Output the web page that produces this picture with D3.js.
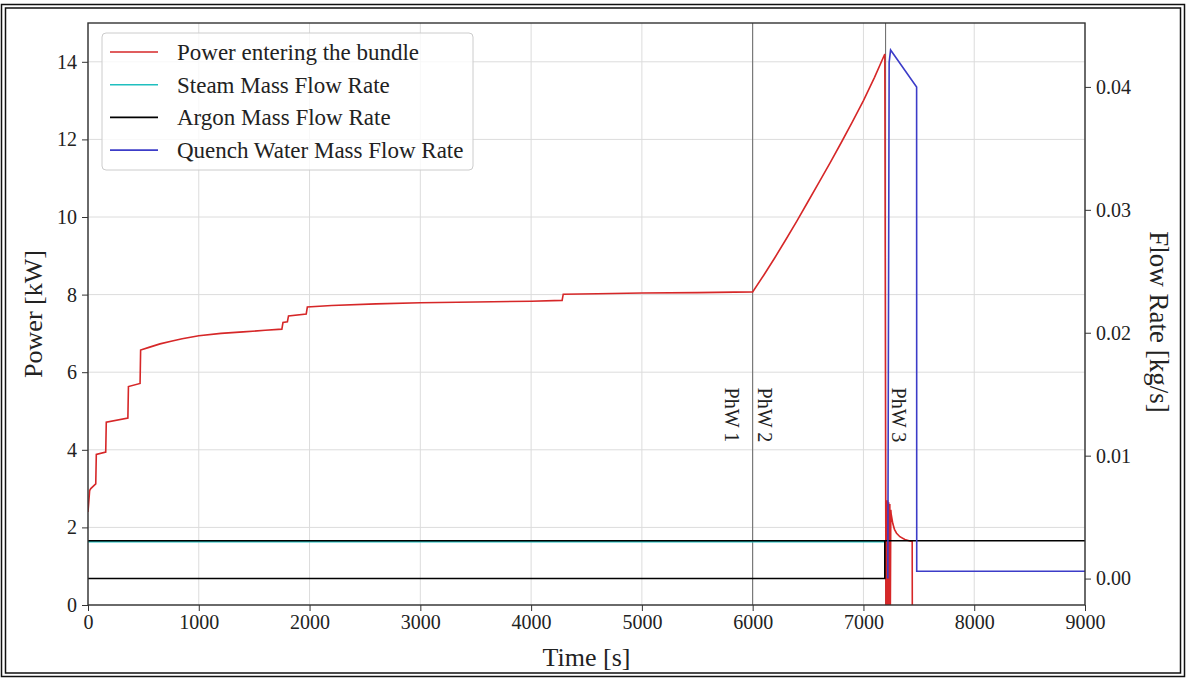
<!DOCTYPE html>
<html>
<head>
<meta charset="utf-8">
<script src="https://cdn.jsdelivr.net/npm/d3@7"></script>
<style>
    body { margin: 0; background: #fff; }
    svg { font-family: 'Liberation Serif', 'Times New Roman', serif; }
</style>
</head>
<body>
<div id="chart"></div>
<script>
// power entering the bundle [kW]
const powerTime = [0, 15, 25, 70, 75, 160, 165, 360, 365, 470, 475, 550, 650, 750, 850, 1000, 1200, 1400, 1600, 1750,
    1760, 1800, 1810, 1970, 1980, 2200, 2600, 3000, 3500, 4000, 4280, 4290, 4600, 5000, 5500, 6000,
    6100, 6200, 6300, 6400, 6500, 6600, 6700, 6800, 6900, 7000, 7100, 7193,
    7203, 7208, 7213, 7218, 7223, 7228, 7233, 7238, 7243, 7247, 7250, 7265, 7280, 7299, 7329, 7374, 7419, 7440, 7441];
const powerKW = [2.4, 2.95, 3.0, 3.12, 3.88, 3.94, 4.71, 4.82, 5.63, 5.71, 6.57, 6.64, 6.73, 6.8, 6.86, 6.94, 7.0, 7.04, 7.08, 7.11,
    7.28, 7.3, 7.45, 7.5, 7.68, 7.72, 7.76, 7.79, 7.81, 7.83, 7.85, 8.01, 8.02, 8.04, 8.05, 8.07,
    8.5, 8.95, 9.42, 9.9, 10.4, 10.9, 11.4, 11.92, 12.45, 13.0, 13.6, 14.2,
    0, 2.7, 0, 2.7, 0, 2.65, 0, 2.6, 0, 2.45, 2.35, 2.1, 1.95, 1.85, 1.76, 1.69, 1.65, 1.64, 0];

// mass flow rates [kg/s]
const steamTime = [0, 7193];
const steamFlow = [0.00300, 0.00300];
const argonTime = [0, 9000];
const argonFlow = [0.00308, 0.00308];
const argonStartTime = [0, 7193, 7193];
const argonStartFlow = [0, 0, 0.00308];
const quenchTime = [7220, 7232, 7245, 7480, 7481, 9000];
const quenchFlow = [0, 0.042, 0.0430, 0.0400, 0.0006, 0.0006];

// phase markers
const phaseTimes = [6000, 7200];
const phaseLabels = [
    { t: 6000, text: 'PhW 1', dx: -21 },
    { t: 6000, text: 'PhW 2', dx: 12 },
    { t: 7200, text: 'PhW 3', dx: 13 }
];

const xTicks = [0, 1000, 2000, 3000, 4000, 5000, 6000, 7000, 8000, 9000];
const powerTicks = [0, 2, 4, 6, 8, 10, 12, 14];
const flowTicks = [0, 0.01, 0.02, 0.03, 0.04];

const legendItems = [
    { label: 'Power entering the bundle', color: '#d62728' },
    { label: 'Steam Mass Flow Rate', color: '#1fbfbf' },
    { label: 'Argon Mass Flow Rate', color: '#000' },
    { label: 'Quench Water Mass Flow Rate', color: '#3c3cc8' }
];

const width = 1186, height = 678;
const margin = { left: 88, right: 101, top: 23, bottom: 73 };
const innerW = width - margin.left - margin.right;
const innerH = height - margin.top - margin.bottom;
const tickFont = 20;

const svg = d3.select('#chart')
    .append('svg')
    .attr('width', width)
    .attr('height', height);

// outer double frame
svg.append('rect').attr('x', 1.5).attr('y', 4.5).attr('width', width - 3).attr('height', height - 6)
    .attr('fill', 'none').attr('stroke', '#111').attr('stroke-width', 1.5);
svg.append('rect').attr('x', 5.5).attr('y', 8).attr('width', width - 11).attr('height', height - 13)
    .attr('fill', 'none').attr('stroke', '#111').attr('stroke-width', 1.5);

const x = d3.scaleLinear().domain([0, 9000]).range([0, innerW]);
const yPower = d3.scaleLinear().domain([0, 15]).range([innerH, 0]);
const yFlow = d3.scaleLinear().domain([-0.00215, 0.0452]).range([innerH, 0]);

const g = svg.append('g').attr('transform', `translate(${margin.left},${margin.top})`);

// grid
g.append('g')
    .selectAll('line')
    .data(xTicks)
    .enter().append('line')
    .attr('x1', d => x(d)).attr('x2', d => x(d))
    .attr('y1', 0).attr('y2', innerH)
    .attr('stroke', '#dcdcdc').attr('stroke-width', 1);
g.append('g')
    .selectAll('line')
    .data(powerTicks)
    .enter().append('line')
    .attr('x1', 0).attr('x2', innerW)
    .attr('y1', d => yPower(d)).attr('y2', d => yPower(d))
    .attr('stroke', '#dcdcdc').attr('stroke-width', 1);

// phase lines
g.append('g')
    .selectAll('line')
    .data(phaseTimes)
    .enter().append('line')
    .attr('x1', d => x(d)).attr('x2', d => x(d))
    .attr('y1', 0).attr('y2', innerH)
    .attr('stroke', '#666').attr('stroke-width', 1);

g.append('g')
    .selectAll('text')
    .data(phaseLabels)
    .enter().append('text')
    .attr('transform', d => `translate(${x(d.t) + d.dx},${yPower(4.9)})rotate(90)`)
    .attr('text-anchor', 'middle')
    .attr('dy', '0.35em')
    .attr('font-size', 20)
    .attr('fill', '#222')
    .text(d => d.text);

const zip = (ts, vs) => ts.map((t, i) => [t, vs[i]]);

const powerLine = d3.line().x(d => x(d[0])).y(d => yPower(d[1]));
const flowLine = d3.line().x(d => x(d[0])).y(d => yFlow(d[1]));

const clip = svg.append('defs').append('clipPath').attr('id', 'plotclip');
clip.append('rect').attr('width', innerW).attr('height', innerH);
const plot = g.append('g').attr('clip-path', 'url(#plotclip)');

plot.append('path')
    .datum(zip(powerTime, powerKW))
    .attr('d', powerLine)
    .attr('fill', 'none').attr('stroke', '#d62728').attr('stroke-width', 1.6);

plot.append('path')
    .datum(zip(steamTime, steamFlow))
    .attr('d', flowLine)
    .attr('fill', 'none').attr('stroke', '#1fbfbf').attr('stroke-width', 1.6);

plot.append('path')
    .datum(zip(argonTime, argonFlow))
    .attr('d', flowLine)
    .attr('fill', 'none').attr('stroke', '#000').attr('stroke-width', 1.6);

plot.append('path')
    .datum(zip(argonStartTime, argonStartFlow))
    .attr('d', flowLine)
    .attr('fill', 'none').attr('stroke', '#000').attr('stroke-width', 1.6);

plot.append('path')
    .datum(zip(quenchTime, quenchFlow))
    .attr('d', flowLine)
    .attr('fill', 'none').attr('stroke', '#3c3cc8').attr('stroke-width', 1.6);

// axes
const styleAxis = sel => {
    sel.selectAll('text').attr('font-size', tickFont).attr('fill', '#222')
        .attr('font-family', "'Liberation Serif', 'Times New Roman', serif");
    sel.selectAll('line').attr('stroke', '#333');
    sel.select('.domain').remove();
};

g.append('g')
    .attr('transform', `translate(0,${innerH})`)
    .call(d3.axisBottom(x).tickValues(xTicks).tickSize(6).tickPadding(4).tickFormat(d3.format('d')))
    .call(styleAxis);

g.append('g')
    .call(d3.axisLeft(yPower).tickValues(powerTicks).tickSize(6).tickPadding(5).tickFormat(d3.format('d')))
    .call(styleAxis);

g.append('g')
    .attr('transform', `translate(${innerW},0)`)
    .call(d3.axisRight(yFlow).tickValues(flowTicks).tickSize(6).tickPadding(5).tickFormat(d3.format('.2f')))
    .call(styleAxis);

g.append('rect')
    .attr('width', innerW).attr('height', innerH)
    .attr('fill', 'none').attr('stroke', '#333').attr('stroke-width', 1.4);

// axis titles
svg.append('text')
    .attr('x', margin.left + innerW / 2).attr('y', 666)
    .attr('text-anchor', 'middle').attr('font-size', 26).attr('fill', '#222')
    .text('Time [s]');

svg.append('text')
    .attr('transform', `translate(33,${margin.top + innerH / 2})rotate(-90)`)
    .attr('text-anchor', 'middle').attr('dy', '0.35em').attr('font-size', 26).attr('fill', '#222')
    .text('Power [kW]');

svg.append('text')
    .attr('transform', `translate(1159,${margin.top + innerH / 2 + 8})rotate(90)`)
    .attr('text-anchor', 'middle').attr('dy', '0.35em').attr('font-size', 27).attr('fill', '#222')
    .text('Flow Rate [kg/s]');

// legend
const legend = g.append('g').attr('transform', 'translate(14,10)');
legend.append('rect')
    .attr('width', 371).attr('height', 137).attr('rx', 4)
    .attr('fill', '#fff').attr('fill-opacity', 0.8)
    .attr('stroke', '#ccc').attr('stroke-width', 1);

const item = legend.selectAll('.item')
    .data(legendItems)
    .enter().append('g')
    .attr('transform', (d, i) => `translate(8,${19 + i * 32.7})`);

item.append('line')
    .attr('x1', 0).attr('x2', 48)
    .attr('stroke', d => d.color).attr('stroke-width', 1.6);

item.append('text')
    .attr('x', 67).attr('dy', '0.35em')
    .attr('font-size', 23).attr('fill', '#222')
    .text(d => d.label);
</script>
</body>
</html>
